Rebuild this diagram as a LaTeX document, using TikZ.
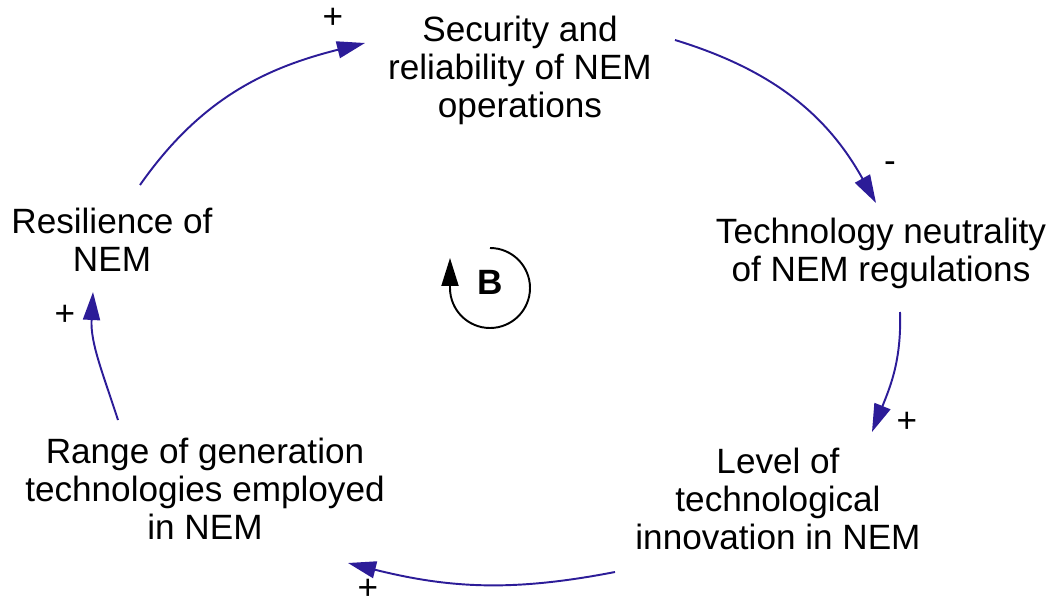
\documentclass[tikz,border=0pt]{standalone}
\usepackage{fontspec}
\setmainfont{Liberation Sans}
\usetikzlibrary{arrows.meta,positioning}
\usepackage{xcolor}
\definecolor{loopblue}{HTML}{2C1C98}
\tikzset{
  varnode/.style={align=center, inner sep=0pt, font=\fontsize{20}{21.6}\selectfont},
  polarity/.style={inner sep=0pt, font=\fontsize{20}{21.6}\selectfont},
  linkarrow/.style={-{Triangle[length=0.56cm, width=0.34cm]}, line width=1.1pt, draw=loopblue},
  looparrow/.style={-{Triangle[length=0.56cm, width=0.34cm]}, line width=1.1pt, draw=black}
}
\begin{document}
\begin{tikzpicture}[x=0.02cm, y=0.02cm]
  \useasboundingbox (0,0) rectangle (1062,606);
  % variables
  \node[varnode] (sec) at (520,535.5) {Security and\\reliability of NEM\\operations};
  \node[varnode] (tech) at (881,353) {Technology neutrality\\of NEM regulations};
  \node[varnode] (lev) at (778,107) {Level of\\technological\\innovation in NEM};
  \node[varnode] (rng) at (205,117.5) {Range of generation\\technologies employed\\in NEM};
  \node[varnode] (res) at (112,366.5) {Resilience of\\NEM};
  % causal links
  \draw[linkarrow] ([shift={(28,54.5)}]res.center) to[out=55, in=194] ([shift={(-155,27.5)}]sec.center);
  \draw[linkarrow] ([shift={(155,30.5)}]sec.center) to[out=-17, in=119] ([shift={(-5,50)}]tech.center);
  \draw[linkarrow] ([shift={(19,-59)}]tech.center) to[out=-88, in=68] ([shift={(94,67)}]lev.center);
  \draw[linkarrow] ([shift={(-163,-73)}]lev.center) to[out=191, in=-14] ([shift={(143,-74.5)}]rng.center);
  \draw[linkarrow] ([shift={(-87,68.5)}]rng.center) to[out=108, in=-93] ([shift={(-19,-52.5)}]res.center);
  % polarities
  \node[polarity] (p1) at (333,588) {+};
  \node[polarity] (p2) at (890,439) {-};
  \node[polarity] (p3) at (907,184) {+};
  \node[polarity] (p4) at (368,17) {+};
  \node[polarity] (p5) at (65,291) {+};
  % loop marker
  \node[font=\fontsize{20}{21.6}\selectfont\bfseries] (loopB) at (490,323.5) {B};
  \draw[looparrow] ([shift={(0,34.5)}]loopB.center) arc[start angle=90, end angle=-180, radius=40] -- ++(0,30);
\end{tikzpicture}
\end{document}
